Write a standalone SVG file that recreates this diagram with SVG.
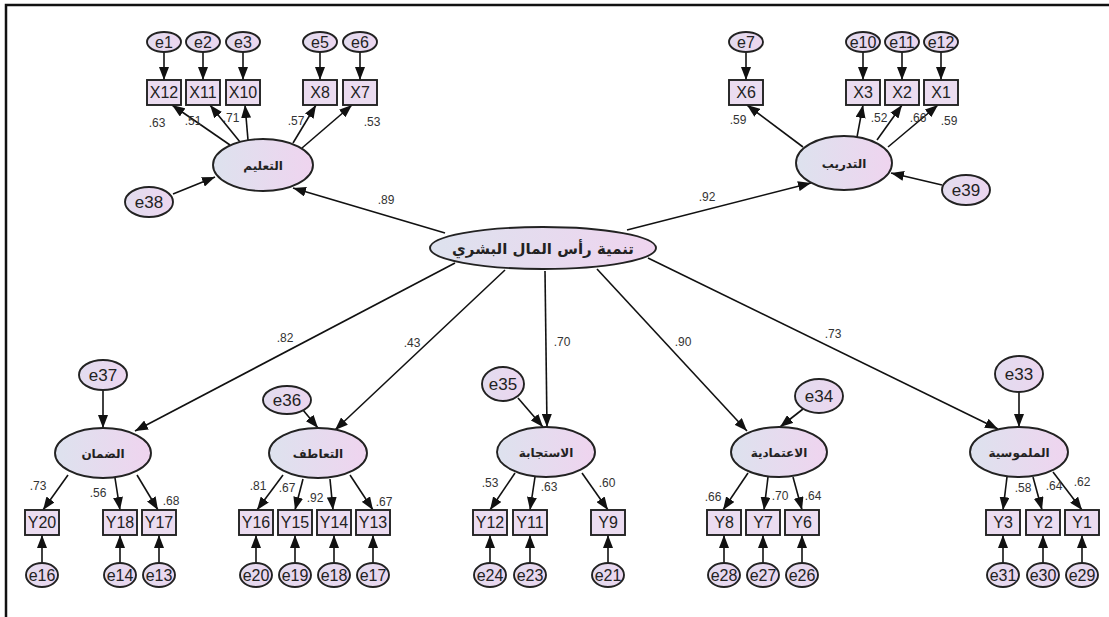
<svg xmlns="http://www.w3.org/2000/svg" width="1109" height="617" viewBox="0 0 1109 617">
<defs>
<linearGradient id="gl" x1="0" y1="0" x2="1" y2="0">
<stop offset="0" stop-color="#dde2ee"/>
<stop offset="1" stop-color="#efd4ef"/>
</linearGradient>
<linearGradient id="ge" x1="0" y1="0" x2="1" y2="0">
<stop offset="0" stop-color="#e2dcef"/>
<stop offset="1" stop-color="#ecd6ef"/>
</linearGradient>
<marker id="ah" markerUnits="userSpaceOnUse" markerWidth="13" markerHeight="10" refX="13" refY="5" orient="auto">
<path d="M0,0 L13,5 L0,10 z" fill="#111"/>
</marker>
<style>
.lat{fill:url(#gl);stroke:#222;stroke-width:1.9}
.err{fill:url(#ge);stroke:#222;stroke-width:1.9}
.box{fill:#ebdcf0;stroke:#222;stroke-width:1.9}
.c{stroke:#111;stroke-width:1.6;fill:none;marker-end:url(#ah)}
.t{font-family:"Liberation Sans",Arial,sans-serif;font-size:16px;text-anchor:middle;fill:#222}
.ar{font-family:"DejaVu Sans","Noto Sans",sans-serif;font-weight:bold;font-size:12px;text-anchor:middle;fill:#222}
.n{font-family:"Liberation Sans",Arial,sans-serif;font-size:12px;text-anchor:middle;fill:#333}
</style>
</defs>
<rect width="1109" height="617" fill="#fff"/>
<path d="M6,617 L6,5 L1109,5" fill="none" stroke="#111" stroke-width="2.5"/>

<g id="connectors">
<path class="c" d="M164,52 L164,80"/>
<path class="c" d="M203,52 L203,80"/>
<path class="c" d="M243,52 L243,80"/>
<path class="c" d="M320,52 L320,80"/>
<path class="c" d="M360,52 L360,80"/>
<path class="c" d="M746,52 L746,80"/>
<path class="c" d="M863,52 L863,80"/>
<path class="c" d="M902,52 L902,80"/>
<path class="c" d="M941,52 L941,80"/>
<path class="c" d="M230,145 L172,105"/>
<path class="c" d="M240,142 L210,105"/>
<path class="c" d="M248,140 L245,105"/>
<path class="c" d="M293,143 L316,105"/>
<path class="c" d="M302,148 L352,105"/>
<path class="c" d="M803,147 L747,105"/>
<path class="c" d="M857,137 L863,105"/>
<path class="c" d="M877,140 L902,105"/>
<path class="c" d="M888,147 L938,105"/>
<path class="c" d="M173,194 L215,177"/>
<path class="c" d="M942,185 L891,173"/>
<path class="c" d="M445,233 L293,188"/>
<path class="c" d="M627,230 L811,183"/>
<path class="c" d="M455,263 L135,431"/>
<path class="c" d="M505,270 L335,430"/>
<path class="c" d="M545,271 L547,427"/>
<path class="c" d="M597,269 L747,431"/>
<path class="c" d="M648,258 L998,429"/>
<path class="c" d="M103,390 L103,428"/>
<path class="c" d="M303,410 L318,428"/>
<path class="c" d="M518,398 L543,427"/>
<path class="c" d="M803,409 L780,427"/>
<path class="c" d="M1019,392 L1019,427"/>
<path class="c" d="M68,475 L43,510"/>
<path class="c" d="M115,478 L120,510"/>
<path class="c" d="M137,475 L158,510"/>
<path class="c" d="M283,475 L257,510"/>
<path class="c" d="M303,479 L295,510"/>
<path class="c" d="M330,479 L333,510"/>
<path class="c" d="M350,475 L373,510"/>
<path class="c" d="M515,473 L490,510"/>
<path class="c" d="M535,477 L530,510"/>
<path class="c" d="M582,473 L608,510"/>
<path class="c" d="M748,473 L723,510"/>
<path class="c" d="M768,477 L764,510"/>
<path class="c" d="M793,477 L802,510"/>
<path class="c" d="M1007,477 L1003,510"/>
<path class="c" d="M1033,477 L1042,510"/>
<path class="c" d="M1053,472 L1082,510"/>
<path class="c" d="M42,563 L42,535"/>
<path class="c" d="M120,563 L120,535"/>
<path class="c" d="M159,563 L159,535"/>
<path class="c" d="M256,563 L256,535"/>
<path class="c" d="M295,563 L295,535"/>
<path class="c" d="M334,563 L334,535"/>
<path class="c" d="M373,563 L373,535"/>
<path class="c" d="M490,563 L490,535"/>
<path class="c" d="M530,563 L530,535"/>
<path class="c" d="M608,563 L608,535"/>
<path class="c" d="M724,563 L724,535"/>
<path class="c" d="M763,563 L763,535"/>
<path class="c" d="M802,563 L802,535"/>
<path class="c" d="M1003,563 L1003,535"/>
<path class="c" d="M1043,563 L1043,535"/>
<path class="c" d="M1082,563 L1082,535"/>
</g>

<g id="labels">
<text class="n" x="157" y="127">.63</text>
<text class="n" x="193" y="125">.51</text>
<text class="n" x="231" y="122">.71</text>
<text class="n" x="296" y="125">.57</text>
<text class="n" x="372" y="126">.53</text>
<text class="n" x="738" y="124">.59</text>
<text class="n" x="879" y="122">.52</text>
<text class="n" x="918" y="122">.66</text>
<text class="n" x="949" y="125">.59</text>
<text class="n" x="386" y="204">.89</text>
<text class="n" x="707" y="201">.92</text>
<text class="n" x="285" y="342">.82</text>
<text class="n" x="412" y="347">.43</text>
<text class="n" x="562" y="346">.70</text>
<text class="n" x="683" y="346">.90</text>
<text class="n" x="833" y="338">.73</text>
<text class="n" x="38" y="490">.73</text>
<text class="n" x="98" y="497">.56</text>
<text class="n" x="171" y="505">.68</text>
<text class="n" x="258" y="490">.81</text>
<text class="n" x="287" y="492">.67</text>
<text class="n" x="315" y="502">.92</text>
<text class="n" x="384" y="506">.67</text>
<text class="n" x="490" y="487">.53</text>
<text class="n" x="549" y="491">.63</text>
<text class="n" x="607" y="487">.60</text>
<text class="n" x="713" y="501">.66</text>
<text class="n" x="780" y="500">.70</text>
<text class="n" x="813" y="500">.64</text>
<text class="n" x="1023" y="492">.58</text>
<text class="n" x="1054" y="490">.64</text>
<text class="n" x="1082" y="486">.62</text>
</g>

<g id="central"><ellipse class="lat" cx="543" cy="248" rx="113" ry="21"/><text class="ar" style="font-size:15px" x="543" y="254">تنمية رأس المال البشري</text></g>

<g id="taalim"><ellipse class="lat" cx="263" cy="165" rx="50" ry="26"/><text class="ar" x="263" y="170">التعليم</text></g>
<g id="tadrib"><ellipse class="lat" cx="844" cy="163" rx="48" ry="27"/><text class="ar" x="844" y="168">التدريب</text></g>
<g id="daman"><ellipse class="lat" cx="103" cy="453" rx="48" ry="25"/><text class="ar" x="103" y="458">الضمان</text></g>
<g id="taatuf"><ellipse class="lat" cx="318" cy="453" rx="49" ry="25"/><text class="ar" x="318" y="458">التعاطف</text></g>
<g id="istijaba"><ellipse class="lat" cx="546" cy="452" rx="49" ry="25"/><text class="ar" x="546" y="457">الاستجابة</text></g>
<g id="itimadiya"><ellipse class="lat" cx="779" cy="452" rx="48" ry="25"/><text class="ar" x="779" y="457">الاعتمادية</text></g>
<g id="malmusiya"><ellipse class="lat" cx="1019" cy="452" rx="49" ry="25"/><text class="ar" x="1019" y="457">الملموسية</text></g>

<g id="e38"><ellipse class="err" cx="149" cy="202" rx="24" ry="15"/><text class="t" style="font-size:17px" x="149" y="208">e38</text></g>
<g id="e39"><ellipse class="err" cx="966" cy="190" rx="24" ry="15"/><text class="t" style="font-size:17px" x="966" y="196">e39</text></g>
<g id="e37"><ellipse class="err" cx="103" cy="375" rx="24" ry="15"/><text class="t" style="font-size:17px" x="103" y="381">e37</text></g>
<g id="e36"><ellipse class="err" cx="287" cy="400" rx="24" ry="14"/><text class="t" style="font-size:17px" x="287" y="406">e36</text></g>
<g id="e35"><ellipse class="err" cx="503" cy="384" rx="21" ry="17"/><text class="t" style="font-size:17px" x="503" y="390">e35</text></g>
<g id="e34"><ellipse class="err" cx="819" cy="396" rx="24" ry="17"/><text class="t" style="font-size:17px" x="819" y="402">e34</text></g>
<g id="e33"><ellipse class="err" cx="1019" cy="374" rx="24" ry="18"/><text class="t" style="font-size:17px" x="1019" y="380">e33</text></g>

<g id="e1"><ellipse class="err" cx="164" cy="42" rx="17" ry="10"/><text class="t" x="164" y="48">e1</text></g>
<g id="e2"><ellipse class="err" cx="203" cy="42" rx="17" ry="10"/><text class="t" x="203" y="48">e2</text></g>
<g id="e3"><ellipse class="err" cx="243" cy="42" rx="17" ry="10"/><text class="t" x="243" y="48">e3</text></g>
<g id="e5"><ellipse class="err" cx="320" cy="42" rx="17" ry="10"/><text class="t" x="320" y="48">e5</text></g>
<g id="e6"><ellipse class="err" cx="360" cy="42" rx="17" ry="10"/><text class="t" x="360" y="48">e6</text></g>
<g id="e7"><ellipse class="err" cx="746" cy="42" rx="17" ry="10"/><text class="t" x="746" y="48">e7</text></g>
<g id="e10"><ellipse class="err" cx="863" cy="42" rx="17" ry="10"/><text class="t" x="863" y="48">e10</text></g>
<g id="e11"><ellipse class="err" cx="902" cy="42" rx="17" ry="10"/><text class="t" x="902" y="48">e11</text></g>
<g id="e12"><ellipse class="err" cx="941" cy="42" rx="17" ry="10"/><text class="t" x="941" y="48">e12</text></g>

<g id="X12"><rect class="box" x="147" y="80" width="34" height="25"/><text class="t" x="164" y="98">X12</text></g>
<g id="X11"><rect class="box" x="186" y="80" width="34" height="25"/><text class="t" x="203" y="98">X11</text></g>
<g id="X10"><rect class="box" x="226" y="80" width="34" height="25"/><text class="t" x="243" y="98">X10</text></g>
<g id="X8"><rect class="box" x="303" y="80" width="34" height="25"/><text class="t" x="320" y="98">X8</text></g>
<g id="X7"><rect class="box" x="343" y="80" width="34" height="25"/><text class="t" x="360" y="98">X7</text></g>
<g id="X6"><rect class="box" x="729" y="80" width="34" height="25"/><text class="t" x="746" y="98">X6</text></g>
<g id="X3"><rect class="box" x="846" y="80" width="34" height="25"/><text class="t" x="863" y="98">X3</text></g>
<g id="X2"><rect class="box" x="885" y="80" width="34" height="25"/><text class="t" x="902" y="98">X2</text></g>
<g id="X1"><rect class="box" x="924" y="80" width="34" height="25"/><text class="t" x="941" y="98">X1</text></g>

<g id="Y20"><rect class="box" x="25" y="510" width="34" height="25"/><text class="t" x="42" y="528">Y20</text></g>
<g id="Y18"><rect class="box" x="103" y="510" width="34" height="25"/><text class="t" x="120" y="528">Y18</text></g>
<g id="Y17"><rect class="box" x="142" y="510" width="34" height="25"/><text class="t" x="159" y="528">Y17</text></g>
<g id="Y16"><rect class="box" x="239" y="510" width="34" height="25"/><text class="t" x="256" y="528">Y16</text></g>
<g id="Y15"><rect class="box" x="278" y="510" width="34" height="25"/><text class="t" x="295" y="528">Y15</text></g>
<g id="Y14"><rect class="box" x="317" y="510" width="34" height="25"/><text class="t" x="334" y="528">Y14</text></g>
<g id="Y13"><rect class="box" x="356" y="510" width="34" height="25"/><text class="t" x="373" y="528">Y13</text></g>
<g id="Y12"><rect class="box" x="473" y="510" width="34" height="25"/><text class="t" x="490" y="528">Y12</text></g>
<g id="Y11"><rect class="box" x="513" y="510" width="34" height="25"/><text class="t" x="530" y="528">Y11</text></g>
<g id="Y9"><rect class="box" x="591" y="510" width="34" height="25"/><text class="t" x="608" y="528">Y9</text></g>
<g id="Y8"><rect class="box" x="707" y="510" width="34" height="25"/><text class="t" x="724" y="528">Y8</text></g>
<g id="Y7"><rect class="box" x="746" y="510" width="34" height="25"/><text class="t" x="763" y="528">Y7</text></g>
<g id="Y6"><rect class="box" x="785" y="510" width="34" height="25"/><text class="t" x="802" y="528">Y6</text></g>
<g id="Y3"><rect class="box" x="986" y="510" width="34" height="25"/><text class="t" x="1003" y="528">Y3</text></g>
<g id="Y2"><rect class="box" x="1026" y="510" width="34" height="25"/><text class="t" x="1043" y="528">Y2</text></g>
<g id="Y1"><rect class="box" x="1065" y="510" width="34" height="25"/><text class="t" x="1082" y="528">Y1</text></g>

<g id="e16"><ellipse class="err" cx="42" cy="575" rx="16" ry="12"/><text class="t" x="42" y="581">e16</text></g>
<g id="e14"><ellipse class="err" cx="120" cy="575" rx="16" ry="12"/><text class="t" x="120" y="581">e14</text></g>
<g id="e13"><ellipse class="err" cx="159" cy="575" rx="16" ry="12"/><text class="t" x="159" y="581">e13</text></g>
<g id="e20"><ellipse class="err" cx="256" cy="575" rx="16" ry="12"/><text class="t" x="256" y="581">e20</text></g>
<g id="e19"><ellipse class="err" cx="295" cy="575" rx="16" ry="12"/><text class="t" x="295" y="581">e19</text></g>
<g id="e18"><ellipse class="err" cx="334" cy="575" rx="16" ry="12"/><text class="t" x="334" y="581">e18</text></g>
<g id="e17"><ellipse class="err" cx="373" cy="575" rx="16" ry="12"/><text class="t" x="373" y="581">e17</text></g>
<g id="e24"><ellipse class="err" cx="490" cy="575" rx="16" ry="12"/><text class="t" x="490" y="581">e24</text></g>
<g id="e23"><ellipse class="err" cx="530" cy="575" rx="16" ry="12"/><text class="t" x="530" y="581">e23</text></g>
<g id="e21"><ellipse class="err" cx="608" cy="575" rx="16" ry="12"/><text class="t" x="608" y="581">e21</text></g>
<g id="e28"><ellipse class="err" cx="724" cy="575" rx="16" ry="12"/><text class="t" x="724" y="581">e28</text></g>
<g id="e27"><ellipse class="err" cx="763" cy="575" rx="16" ry="12"/><text class="t" x="763" y="581">e27</text></g>
<g id="e26"><ellipse class="err" cx="802" cy="575" rx="16" ry="12"/><text class="t" x="802" y="581">e26</text></g>
<g id="e31"><ellipse class="err" cx="1003" cy="575" rx="16" ry="12"/><text class="t" x="1003" y="581">e31</text></g>
<g id="e30"><ellipse class="err" cx="1043" cy="575" rx="16" ry="12"/><text class="t" x="1043" y="581">e30</text></g>
<g id="e29"><ellipse class="err" cx="1082" cy="575" rx="16" ry="12"/><text class="t" x="1082" y="581">e29</text></g>
</svg>
